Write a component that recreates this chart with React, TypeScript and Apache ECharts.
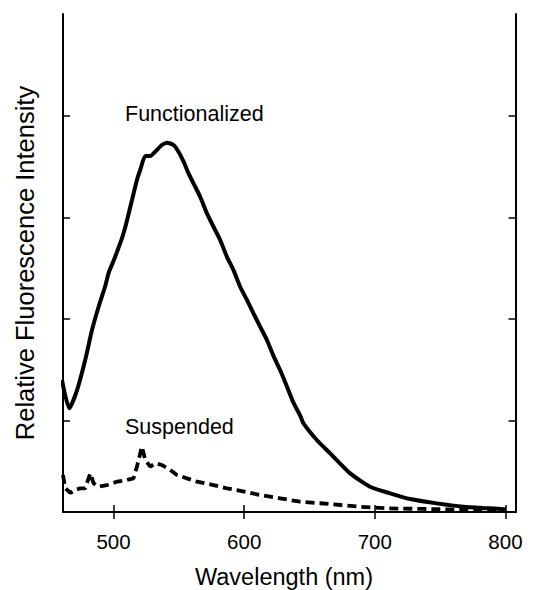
import React, { useEffect, useRef } from "react";
import * as echarts from "echarts";

// Wavelength (nm) and relative intensity (arbitrary units)
const functionalizedWavelength = [
  460.5, 466.1, 472.0, 478.3, 483.5, 488.5, 493.6, 496.2, 500.0, 502.6, 506.4,
  509.0, 510.3, 512.8, 515.3, 517.9, 520.4, 524.3, 528.1, 531.9, 537.0, 540.9,
  545.9, 549.7, 553.6, 557.4, 561.2, 566.3, 571.5, 576.5, 581.6, 586.8, 591.8,
  596.9, 602.1, 607.1, 612.2, 617.4, 622.4, 627.5, 632.7, 637.7, 642.8, 645.4,
  655.6, 665.8, 681.1, 696.4, 711.7, 727.0, 747.4, 767.8, 788.2, 800.5,
];
const functionalizedIntensity = [
  1.298, 1.02, 1.197, 1.495, 1.789, 2.016, 2.22, 2.35, 2.47, 2.556, 2.69,
  2.802, 2.868, 2.999, 3.13, 3.265, 3.363, 3.5, 3.5, 3.543, 3.609, 3.632,
  3.609, 3.543, 3.445, 3.33, 3.232, 3.1, 2.936, 2.805, 2.675, 2.509, 2.379,
  2.215, 2.085, 1.954, 1.822, 1.691, 1.535, 1.396, 1.235, 1.075, 0.95, 0.872,
  0.708, 0.577, 0.38, 0.249, 0.184, 0.128, 0.085, 0.052, 0.036, 0.025,
];

const suspendedWavelength = [
  461.3, 463.0, 466.9, 470.7, 474.5, 478.3, 482.2, 484.7, 488.5, 494.9, 502.6,
  510.3, 515.3, 517.9, 521.7, 524.3, 528.1, 531.9, 537.0, 543.4, 548.5, 556.2,
  563.8, 576.5, 586.8, 594.4, 612.2, 627.5, 642.8, 658.1, 673.5, 688.8, 709.2,
  737.0, 788.2, 800.5,
];
const suspendedIntensity = [
  0.364, 0.236, 0.187, 0.216, 0.233, 0.233, 0.38, 0.283, 0.249, 0.265, 0.298,
  0.315, 0.331, 0.446, 0.642, 0.511, 0.446, 0.479, 0.462, 0.413, 0.364, 0.331,
  0.298, 0.265, 0.233, 0.216, 0.167, 0.135, 0.101, 0.086, 0.069, 0.052, 0.036,
  0.03, 0.02, 0.018,
];

const xTickValues = [500, 600, 700, 800];
const yTickValues = [0.898, 1.898, 2.898, 3.898];

const FONT = "Liberation Sans, Arial, Helvetica, sans-serif";

export default function App() {
  const ref = useRef<HTMLDivElement>(null);
  useEffect(() => {
    if (!ref.current) return;
    const chart = echarts.init(ref.current, undefined, { renderer: "svg" });
    const zip = (xs: number[], ys: number[]) => xs.map((x, i) => [x, ys[i]]);
    const axisLine = { show: true, lineStyle: { color: "#000", width: 2 } };
    const tick = (vals: number[]) => ({
      show: true,
      inside: true,
      length: 7,
      customValues: vals,
      lineStyle: { color: "#000", width: 1.5 },
    });
    chart.setOption({
      animation: false,
      backgroundColor: "#fff",
      grid: { left: 63, right: 17.5, top: 14, bottom: 78, containLabel: false },
      xAxis: [
        {
          type: "value",
          min: 461.3,
          max: 807.7,
          position: "bottom",
          axisLine,
          axisTick: tick(xTickValues),
          splitLine: { show: false },
          axisLabel: {
            show: true,
            customValues: xTickValues,
            color: "#000",
            fontSize: 20.5,
            fontFamily: FONT,
            margin: 19,
          },
        },
        {
          type: "value",
          min: 461.3,
          max: 807.7,
          position: "top",
          axisLine,
          axisTick: tick(xTickValues),
          splitLine: { show: false },
          axisLabel: { show: false },
        },
      ],
      yAxis: [
        {
          type: "value",
          min: 0,
          max: 4.897,
          position: "left",
          axisLine,
          axisTick: tick(yTickValues),
          splitLine: { show: false },
          axisLabel: { show: false },
        },
        {
          type: "value",
          min: 0,
          max: 4.897,
          position: "right",
          axisLine,
          axisTick: tick(yTickValues),
          splitLine: { show: false },
          axisLabel: { show: false },
        },
      ],
      series: [
        {
          name: "Functionalized",
          type: "line",
          data: zip(functionalizedWavelength, functionalizedIntensity),
          showSymbol: false,
          smooth: 0.2,
          lineStyle: { color: "#000", width: 4 },
        },
        {
          name: "Suspended",
          type: "line",
          data: zip(suspendedWavelength, suspendedIntensity),
          showSymbol: false,
          smooth: false,
          lineStyle: { color: "#000", width: 3.8, type: [9, 5] },
        },
      ],
      graphic: [
        {
          type: "text",
          x: 125,
          y: 114,
          style: {
            text: "Functionalized",
            font: `21.5px ${FONT}`,
            fill: "#000",
            textAlign: "left",
            textVerticalAlign: "middle",
          },
        },
        {
          type: "text",
          x: 125,
          y: 427,
          style: {
            text: "Suspended",
            font: `21.5px ${FONT}`,
            fill: "#000",
            textAlign: "left",
            textVerticalAlign: "middle",
          },
        },
        {
          type: "text",
          x: 284,
          y: 577,
          style: {
            text: "Wavelength (nm)",
            font: `23.5px ${FONT}`,
            fill: "#000",
            textAlign: "center",
            textVerticalAlign: "middle",
          },
        },
        {
          type: "text",
          x: 25,
          y: 263,
          rotation: Math.PI / 2,
          style: {
            text: "Relative Fluorescence Intensity",
            font: `25.5px ${FONT}`,
            fill: "#000",
            textAlign: "center",
            textVerticalAlign: "middle",
          },
        },
      ],
    });
    return () => chart.dispose();
  }, []);
  return (
    <div
      ref={ref}
      style={{ position: "absolute", left: 0, top: 0, width: 533, height: 590 }}
    />
  );
}
